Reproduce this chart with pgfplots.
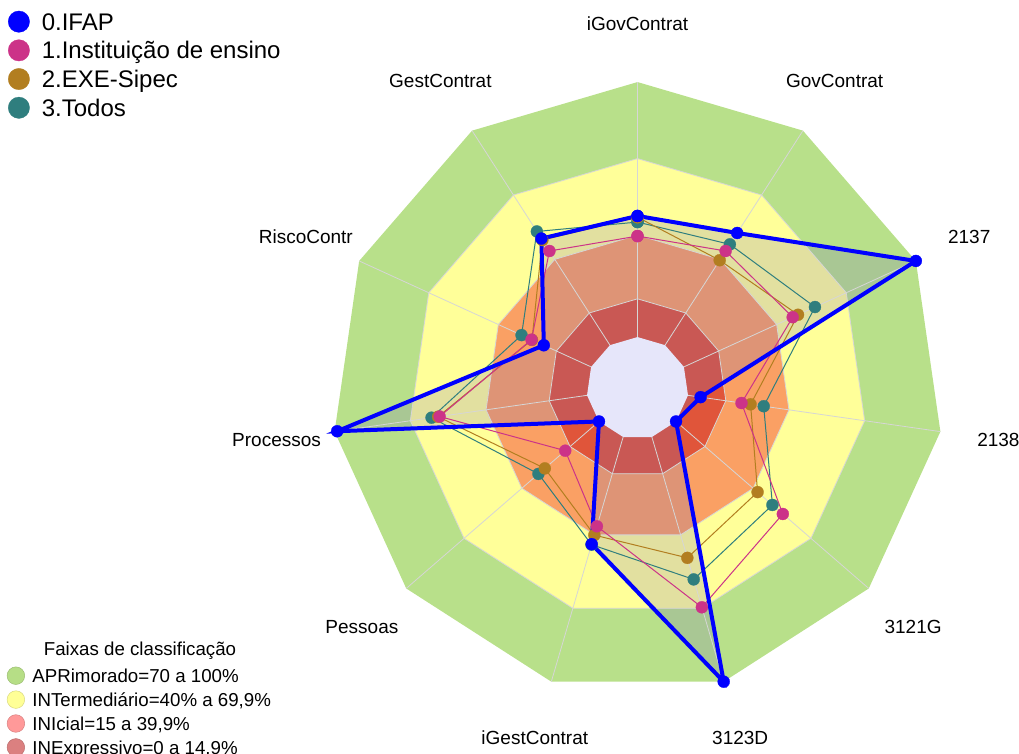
\documentclass[border=0pt]{standalone}
\usepackage{pgfplots}
\pgfplotsset{compat=1.18}
\usepackage{pgfplotstable}
\usepackage{fontspec}
\setmainfont{Liberation Sans}
\definecolor{bgreen}{RGB}{184,224,138}
\definecolor{byellow}{RGB}{255,255,153}
\definecolor{borange}{RGB}{250,160,100}
\definecolor{bred}{RGB}{224,85,58}
\definecolor{bhole}{RGB}{230,230,250}
\definecolor{gridc}{RGB}{214,214,214}
\definecolor{ifapfill}{RGB}{110,100,190}
\definecolor{cifap}{RGB}{0,0,255}
\definecolor{cinst}{RGB}{204,51,136}
\definecolor{cexe}{RGB}{178,126,32}
\definecolor{ctodos}{RGB}{47,126,126}
\definecolor{lgreen}{RGB}{182,222,134}
\definecolor{lyellow}{RGB}{255,255,150}
\definecolor{lpink}{RGB}{255,153,153}
\definecolor{ldpink}{RGB}{219,128,128}

% angle (deg) of each axis, values in % (plotted at radius value+20)
\pgfplotstableread{
idx ang ifap inst exe todos
0 90 47.5 39.6 47 45.1
1 57.2727 52.3 43.9 39.6 47.0
2 24.5455 100 46.9 49.2 56.5
3 -8.1818 5 21.2 24.8 30.0
4 -40.9091 0 55.4 42.3 50.0
5 -73.6364 100 69.6 49.4 58.2
6 -106.3636 43.8 36.5 40.1 44.0
7 -139.0909 0 17.5 28.1 31.4
8 -171.8182 99 58.4 59 61.6
9 155.4545 20.4 25.7 25.5 30.0
10 122.7273 49.7 43.9 49 53.0
11 90 47.5 39.6 47 45.1
}\radar

\begin{document}
\begin{tikzpicture}
\useasboundingbox (0,0) rectangle (1019pt,754pt);
\begin{axis}[
  at={(0,0)}, anchor=south west,
  x=2.55pt, y=2.55pt,
  xmin=-250, xmax=149.6, ymin=-143.5, ymax=152.2,
  hide axis, clip=false,
  legend cell align=left,
  reverse legend,
  legend image code/.code={\draw[#1, line width=0.5pt, mark size=10.7pt] plot coordinates {(0pt,0pt)};},
  legend style={at={(rel axis cs:0,1)}, anchor=north west, xshift=8.2pt, yshift=-7.35pt,
    draw=none, fill=none, inner sep=0pt, outer sep=0pt, row sep=0pt, column sep=10.2pt,
    font=\fontsize{24}{28}\selectfont,
    nodes={inner xsep=2pt, inner ysep=2.2pt, text height=20.75pt, text depth=3.55pt, anchor=west}},
]
% classification bands
\addplot[fill=bgreen, draw=none, forget plot] table[x expr={120*cos(\thisrow{ang})}, y expr={120*sin(\thisrow{ang})}] {\radar};
\addplot[fill=byellow, draw=none, forget plot] table[x expr={90*cos(\thisrow{ang})}, y expr={90*sin(\thisrow{ang})}] {\radar};
\addplot[fill=borange, draw=none, forget plot] table[x expr={60*cos(\thisrow{ang})}, y expr={60*sin(\thisrow{ang})}] {\radar};
\addplot[fill=bred, draw=none, forget plot] table[x expr={35*cos(\thisrow{ang})}, y expr={35*sin(\thisrow{ang})}] {\radar};
% IFAP area
\addplot[fill=ifapfill, fill opacity=0.2, draw=none, forget plot] table[x expr={(\thisrow{ifap}+20)*cos(\thisrow{ang})}, y expr={(\thisrow{ifap}+20)*sin(\thisrow{ang})}] {\radar};
% hole
\addplot[fill=bhole, draw=none, forget plot] table[x expr={20*cos(\thisrow{ang})}, y expr={20*sin(\thisrow{ang})}] {\radar};
% grid rings
\addplot[gridc, line width=0.8pt, forget plot] table[x expr={35*cos(\thisrow{ang})}, y expr={35*sin(\thisrow{ang})}] {\radar};
\addplot[gridc, line width=0.8pt, forget plot] table[x expr={60*cos(\thisrow{ang})}, y expr={60*sin(\thisrow{ang})}] {\radar};
\addplot[gridc, line width=0.8pt, forget plot] table[x expr={90*cos(\thisrow{ang})}, y expr={90*sin(\thisrow{ang})}] {\radar};
% spokes
\pgfplotsinvokeforeach{0,...,10}{
  \addplot[gridc, line width=0.8pt, forget plot] table[row sep=\\, x expr={\thisrow{r}*cos(90-#1*360/11)}, y expr={\thisrow{r}*sin(90-#1*360/11)}] {r\\20\\120\\};
}
% series
\addplot[color=ctodos, line width=1pt, mark=*, mark size=6pt, mark options={solid, line width=0.3pt}] table[x expr={(\thisrow{todos}+20)*cos(\thisrow{ang})}, y expr={(\thisrow{todos}+20)*sin(\thisrow{ang})}] {\radar};
\addlegendentry{3.Todos}
\addplot[color=cexe, line width=1pt, mark=*, mark size=6pt, mark options={solid, line width=0.3pt}] table[x expr={(\thisrow{exe}+20)*cos(\thisrow{ang})}, y expr={(\thisrow{exe}+20)*sin(\thisrow{ang})}] {\radar};
\addlegendentry{2.EXE-Sipec}
\addplot[color=cinst, line width=1pt, mark=*, mark size=6pt, mark options={solid, line width=0.3pt}] table[x expr={(\thisrow{inst}+20)*cos(\thisrow{ang})}, y expr={(\thisrow{inst}+20)*sin(\thisrow{ang})}] {\radar};
\addlegendentry{1.Instituição de ensino}
\addplot[color=cifap, line width=4pt, mark=*, mark size=6pt, mark options={solid, line width=0.3pt}] table[x expr={(\thisrow{ifap}+20)*cos(\thisrow{ang})}, y expr={(\thisrow{ifap}+20)*sin(\thisrow{ang})}] {\radar};
\addlegendentry{0.IFAP}
% axis labels
\begin{scope}[font=\fontsize{19}{22}\selectfont]
\node at (axis cs:{143*cos(90)},{143*sin(90)}) {iGovContrat};
\node at (axis cs:{143*cos(57.2727)},{143*sin(57.2727)}) {GovContrat};
\node at (axis cs:{143*cos(24.5455)},{143*sin(24.5455)}) {2137};
\node at (axis cs:{143*cos(-8.1818)},{143*sin(-8.1818)}) {2138};
\node at (axis cs:{143*cos(-40.9091)},{143*sin(-40.9091)}) {3121G};
\node at (axis cs:{143*cos(-73.6364)},{143*sin(-73.6364)}) {3123D};
\node at (axis cs:{143*cos(-106.3636)},{143*sin(-106.3636)}) {iGestContrat};
\node at (axis cs:{143*cos(-139.0909)},{143*sin(-139.0909)}) {Pessoas};
\node at (axis cs:{143*cos(-171.8182)},{143*sin(-171.8182)}) {Processos};
\node at (axis cs:{143*cos(155.4545)},{143*sin(155.4545)}) {RiscoContr};
\node at (axis cs:{143*cos(122.7273)},{143*sin(122.7273)}) {GestContrat};
\end{scope}
\node[anchor=base, font=\fontsize{18.7}{22}\selectfont] at (axis cs:-195.1,-104.7) {Faixas de classificação};
\end{axis}
% second legend: classification bands
\begin{axis}[
  at={(0,0)}, anchor=south west,
  x=2.55pt, y=2.55pt,
  xmin=-250, xmax=149.6, ymin=-143.5, ymax=152.2,
  hide axis, clip=false,
  legend cell align=left,
  legend image code/.code={\draw[#1, line width=0.5pt, mark size=8.8pt] plot coordinates {(0pt,0pt)};},
  legend style={at={(rel axis cs:0,0)}, anchor=north west, xshift=7.1pt, yshift=90.25pt,
    draw=none, fill=none, inner sep=0pt, outer sep=0pt, row sep=0pt, column sep=5.7pt,
    font=\fontsize{18.7}{22}\selectfont,
    nodes={inner xsep=2pt, inner ysep=1.5pt, text height=17.1pt, text depth=3.8pt, anchor=west}},
]
\addlegendimage{mark=*, draw=lgreen!85!black, fill=lgreen}
\addlegendentry{APRimorado=70 a 100\%}
\addlegendimage{mark=*, draw=lyellow!85!black, fill=lyellow}
\addlegendentry{INTermediário=40\% a 69,9\%}
\addlegendimage{mark=*, draw=lpink!85!black, fill=lpink}
\addlegendentry{INIcial=15 a 39,9\%}
\addlegendimage{mark=*, draw=ldpink!85!black, fill=ldpink}
\addlegendentry{INExpressivo=0 a 14,9\%}
\end{axis}
\end{tikzpicture}
\end{document}
